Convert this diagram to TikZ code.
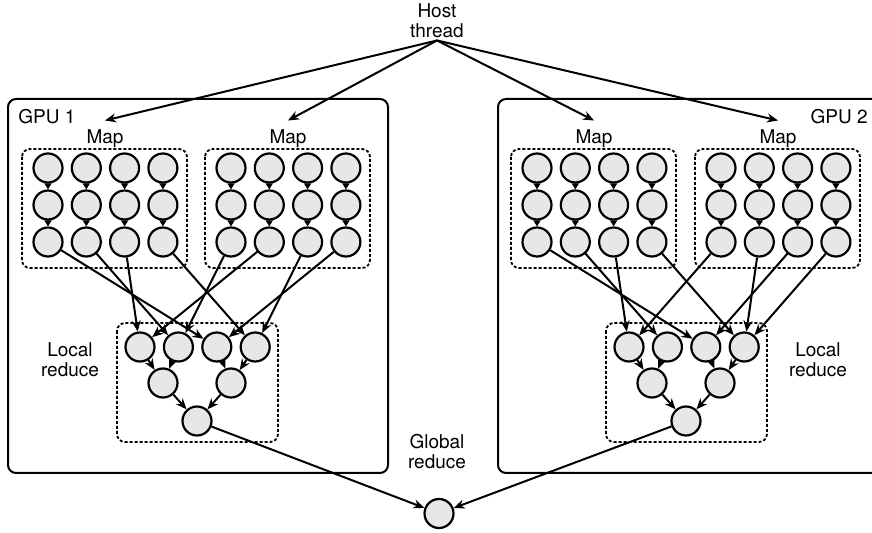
\documentclass[tikz,border=0pt]{standalone}
\usepackage{fontspec}
\setmainfont{TeX Gyre Heros}
\usepackage{tikz}
\usetikzlibrary{arrows.meta}
\definecolor{procgray}{HTML}{E6E8E8}
\tikzset{
  proc/.style={circle, draw, line width=1.1pt, fill=procgray, minimum size=14.5pt, inner sep=0pt},
  flow/.style={line width=1pt, -{Stealth[length=5.5pt,width=4.5pt]}},
  link/.style={line width=1pt, -{Triangle[length=3pt,width=3.5pt]}},
  gpubox/.style={line width=1pt, rounded corners=4pt},
  groupbox/.style={line width=0.9pt, dash pattern=on 1.5pt off 1pt, rounded corners=4pt},
  lbl/.style={font=\fontsize{9.5}{10}\selectfont, align=center, inner sep=1pt},
  maplbl/.style={lbl, outer ysep=3.5pt}
}

\begin{document}
\begin{tikzpicture}[x=0.5pt, y=-0.5pt]
    \useasboundingbox (0,0) rectangle (872,533);
    \draw[gpubox] (8,99) rectangle (388,473);
    \draw[gpubox] (872,99) -- (498,99) -- (498,473) -- (872,473);
    \node[lbl, anchor=west] (gpu1) at (16,117) {GPU 1};
    \node[lbl, anchor=east] (gpu2) at (870,117) {GPU 2};
    \node[lbl] (host) at (437,21) {Host\\thread};
    \node[lbl] (glabel) at (437,452) {Global\\reduce};
    \node[proc] (global) at (439,513.5) {};
    \node[lbl] (llabel) at (70,360) {Local\\reduce};
    \node[lbl] (rlabel) at (818,360) {Local\\reduce};
    \foreach \m/\x in {a/48, b/231, c/537, d/721} {
        \draw[groupbox] (\x-26,149) rectangle (\x+139,268);
        \node[maplbl] (map\m) at (\x+57,138.5) {Map};
        \draw[flow] (host.south) -- (map\m.north);
        \foreach \c in {1,...,4} {
            \foreach \r/\y in {1/168, 2/205, 3/242}
                \node[proc] (\m\r\c) at ({\x+38.3*(\c-1)},\y) {};
            \draw[link] (\m1\c) -- (\m2\c);
            \draw[link] (\m2\c) -- (\m3\c);
        }
    }
    \foreach \s/\x in {l/140, r/629} {
        \draw[groupbox] (\x-23,323) rectangle (\x+138,442);
        \foreach \i in {1,...,4}
            \node[proc] (\s red\i) at ({\x+38.4*(\i-1)},347) {};
        \node[proc] (\s sum1) at (\x+23,383) {};
        \node[proc] (\s sum2) at (\x+91,383) {};
        \node[proc] (\s top) at (\x+57,421) {};
        \draw[flow] (\s red1) -- (\s sum1);
        \draw[flow] (\s red2) -- (\s sum1);
        \draw[flow] (\s red3) -- (\s sum2);
        \draw[flow] (\s red4) -- (\s sum2);
        \draw[flow] (\s sum1) -- (\s top);
        \draw[flow] (\s sum2) -- (\s top);
        \draw[flow] (\s top) -- (global);
    }
    \foreach \from/\to in {a33/lred1, b32/lred1, a32/lred2, b31/lred2, a31/lred3, b34/lred3, a34/lred4, b33/lred4,
        c33/rred1, d31/rred1, c32/rred2, c31/rred3, d33/rred3, c34/rred4, d32/rred4, d34/rred4}
        \draw[flow] (\from) -- (\to);
\end{tikzpicture}
\end{document}
